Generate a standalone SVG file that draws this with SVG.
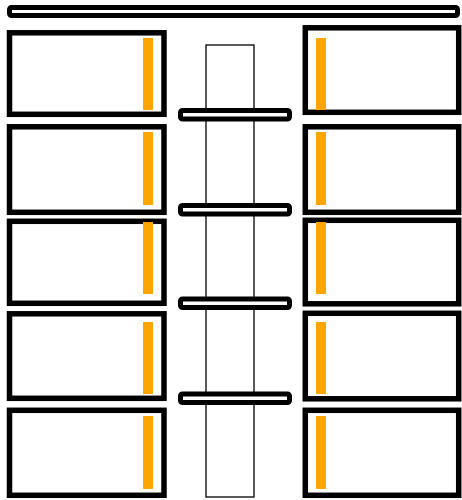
<svg xmlns="http://www.w3.org/2000/svg" width="462" height="500" viewBox="0 0 462 500">
<style>
.box{fill:#fff;stroke:#000;stroke-width:5.5}
.bar{fill:#fff;stroke:#000;stroke-width:5}
.acc{fill:#FFA500}
.col{fill:#fff;stroke:#000;stroke-width:1.3}
</style>
<rect width="462" height="500" fill="#fff"/>
<rect id="top-bar" class="bar" x="9.5" y="7.5" width="448" height="8" rx="2"/>
<rect id="column" class="col" x="206" y="45" width="48" height="452"/>
<g id="crossbars">
<rect class="bar" x="180.5" y="110.5" width="109" height="8.5" rx="2"/>
<rect class="bar" x="180.5" y="205.5" width="109" height="8.5" rx="2"/>
<rect class="bar" x="180.5" y="299" width="109" height="8.5" rx="2"/>
<rect class="bar" x="180.5" y="394" width="109" height="8.5" rx="2"/>
</g>
<g id="L1"><rect class="box" x="9.5" y="32.8" width="154.5" height="81.5"/><rect class="acc" x="143" y="38" width="10" height="72"/></g>
<g id="L2"><rect class="box" x="9.5" y="126.8" width="154.5" height="85.5"/><rect class="acc" x="143" y="132" width="10" height="73"/></g>
<g id="L3"><rect class="box" x="9.5" y="221.3" width="154.5" height="82"/><rect class="acc" x="143" y="222" width="10" height="72"/></g>
<g id="L4"><rect class="box" x="9.5" y="313.8" width="154.5" height="84.5"/><rect class="acc" x="143" y="322" width="10" height="72"/></g>
<g id="L5"><rect class="box" x="9.5" y="410.3" width="154.5" height="85"/><rect class="acc" x="143" y="416" width="10" height="73"/></g>
<g id="R1"><rect class="box" x="305.3" y="27.8" width="153.4" height="84.5"/><rect class="acc" x="316" y="38" width="10" height="72"/></g>
<g id="R2"><rect class="box" x="305.3" y="126.8" width="153.4" height="85.5"/><rect class="acc" x="316" y="132" width="10" height="73"/></g>
<g id="R3"><rect class="box" x="305.3" y="220.3" width="153.4" height="83.5"/><rect class="acc" x="316" y="222" width="10" height="72"/></g>
<g id="R4"><rect class="box" x="305.3" y="313.3" width="153.4" height="85.5"/><rect class="acc" x="316" y="322" width="10" height="72"/></g>
<g id="R5"><rect class="box" x="305.3" y="410.3" width="153.4" height="85"/><rect class="acc" x="316" y="416" width="10" height="73"/></g>
</svg>
